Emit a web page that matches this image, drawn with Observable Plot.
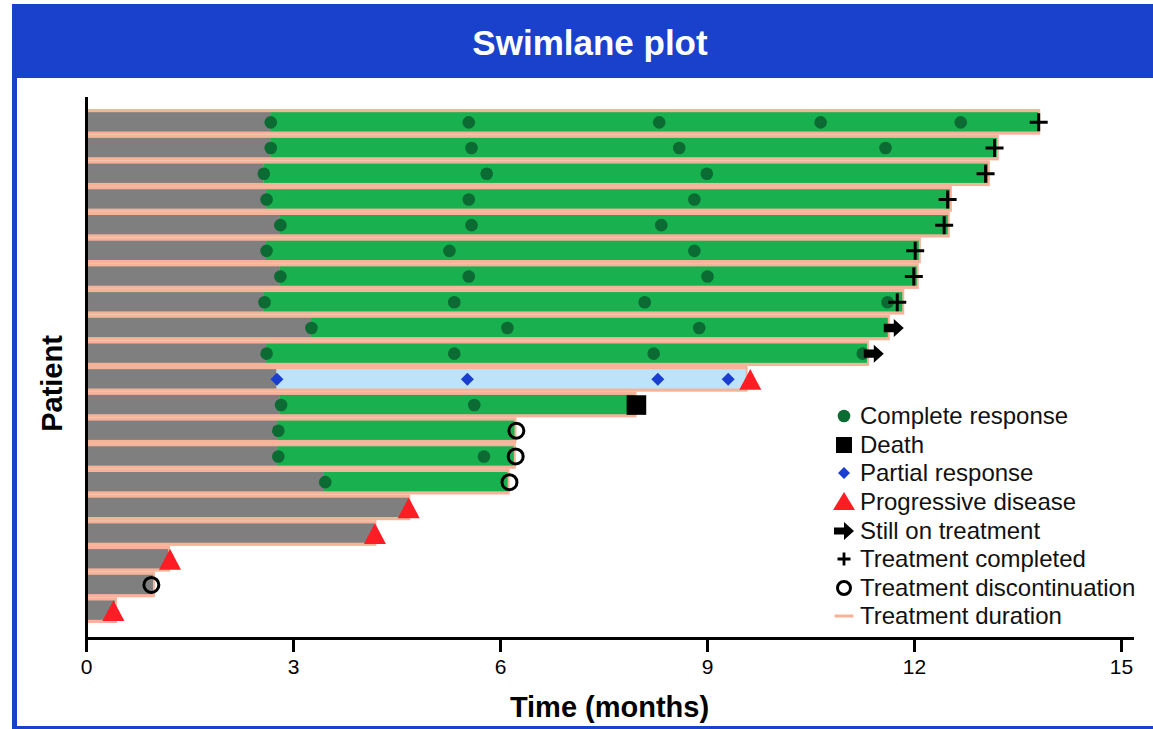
<!DOCTYPE html>
<html><head><meta charset="utf-8">
<script src="https://cdn.jsdelivr.net/npm/d3@7"></script>
<script src="https://cdn.jsdelivr.net/npm/@observablehq/plot@0.6"></script>
<style>
body{margin:0;background:#fff;font-family:"Liberation Sans",Arial,Helvetica,sans-serif;}
#wrap{position:relative;width:1153px;height:729px;overflow:hidden;background:#fff;}
#header{position:absolute;left:12px;top:4px;width:1141px;height:74px;background:#1a41cc;}
#title{position:absolute;top:39px;transform:translate(-50%,-50%);color:#fff;font-weight:bold;font-size:35px;white-space:nowrap;}
#lb{position:absolute;left:12px;top:4px;width:5px;height:725px;background:#1a41cc;}
#bb{position:absolute;left:12px;top:726px;width:1141px;height:3px;background:#1a41cc;}
#chart{position:absolute;left:0;top:78px;}
#legend{position:absolute;left:830px;top:402px;font-size:24px;color:#111;}
.li{display:flex;align-items:center;height:28.6px;white-space:nowrap;}
.li svg{width:28px;height:28px;margin-right:2px;flex:none;}
</style>
</head><body>
<div id="wrap">
  <div id="chart"></div>
  <div id="header"><div id="title" style="left:578px">Swimlane plot</div></div>
  <div id="lb"></div>
  <div id="bb"></div>
  <div id="legend"></div>
</div>
<script>
// ---- data ----
const patients = ["1","2","3","4","5","6","7","8","9","10","11","12","13","14","15","16","17","18","19","20"];
const treatmentEnd = [13.80, 13.20, 13.07, 12.52, 12.49, 12.07, 12.04, 11.83, 11.62, 11.32, 9.56, 7.95, 6.21, 6.20, 6.11, 4.67, 4.18, 1.19, 0.97, 0.42];
const responseStart = [2.67, 2.67, 2.57, 2.61, 2.81, 2.61, 2.81, 2.58, 3.26, 2.61, 2.76, 2.80, 2.77, 2.77, 3.45, null, null, null, null, null];
const responseType = ["CR","CR","CR","CR","CR","CR","CR","CR","CR","CR","PR","CR","CR","CR","CR", null, null, null, null, null];

const crPatient = ["1","1","1","1","1","2","2","2","2","3","3","3","4","4","4","5","5","5","6","6","6","7","7","7","8","8","8","8","9","9","9","10","10","10","10","12","12","13","14","14","15"];
const crTime    = [2.67,5.54,8.30,10.64,12.67, 2.67,5.58,8.59,11.58, 2.57,5.80,8.99, 2.61,5.54,8.81, 2.81,5.58,8.33, 2.61,5.26,8.81, 2.81,5.54,9.00, 2.58,5.33,8.09,11.61, 3.26,6.10,8.88, 2.61,5.33,8.22,11.25, 2.82,5.62, 2.78, 2.78,5.76, 3.46];

const prPatient = ["11","11","11","11"];
const prTime    = [2.76, 5.52, 8.28, 9.30];

const completedPatient = ["1","2","3","4","5","6","7","8"];
const completedTime    = [13.80, 13.16, 13.03, 12.48, 12.43, 12.01, 11.99, 11.75];
const ongoingPatient = ["9","10"];
const ongoingTime    = [11.70, 11.41];
const pdPatient = ["11","16","17","18","20"];
const pdTime    = [9.62, 4.67, 4.18, 1.21, 0.39];
const deathPatient = ["12"];
const deathTime    = [7.97];
const discPatient = ["13","14","15","19"];
const discTime    = [6.23, 6.22, 6.13, 0.94];

const xTicks = [0, 3, 6, 9, 12, 15];
const legendLabels = ["Complete response","Death","Partial response","Progressive disease","Still on treatment","Treatment completed","Treatment discontinuation","Treatment duration"];

// ---- colours ----
const C = {gray:"#7f7f7f", green:"#19b04f", salmon:"#f5b39a", dot:"#0b6b32", light:"#bde3fa", blue:"#1a3fd0", red:"#ff1d25"};

// ---- tables ----
const rows = patients.map((id, i) => ({id, end: treatmentEnd[i], start: responseStart[i], type: responseType[i]}));
const resp = rows.filter(d => d.start != null);
const pts = (P, T) => P.map((p, i) => ({id: p, t: T[i]}));

// ---- custom symbols (size -> r) ----
const R = s => Math.sqrt(s / Math.PI);
const triSym = {draw(c, s){const r = R(s), h = r*0.95; c.moveTo(0,-h); c.lineTo(r,h); c.lineTo(-r,h); c.closePath();}};
const sqSym = {draw(c, s){const r = R(s); c.rect(-r,-r,2*r,2*r);}};
const diaSym = {draw(c, s){const r = R(s); c.moveTo(0,-r); c.lineTo(r,0); c.lineTo(0,r); c.lineTo(-r,0); c.closePath();}};
const plusSym = {draw(c, s){const r = R(s); c.moveTo(-r,0); c.lineTo(r,0); c.moveTo(0,-r); c.lineTo(0,r);}};
const arrowSym = {draw(c, s){const r = R(s); const w = 0.42*r, hh = 0.9*r;
  c.moveTo(-r,-w); c.lineTo(0,-w); c.lineTo(0,-hh); c.lineTo(r,0); c.lineTo(0,hh); c.lineTo(0,w); c.lineTo(-r,w); c.closePath();}};

const inner = {insetTop: 3.2, insetBottom: 3.2};

const chart = Plot.plot({
  width: 1153, height: 648,
  marginLeft: 86, marginRight: 21, marginTop: 20, marginBottom: 88,
  style: {background: "transparent", fontFamily: '"Liberation Sans", Arial, Helvetica, sans-serif', color: "#000"},
  x: {domain: [0, 15], insetRight: 11, axis: null},
  y: {type: "band", domain: patients, padding: 0, round: false, insetTop: 11, insetBottom: 15, axis: null},
  marks: [
    Plot.barX(rows, {x1: 0, x2: "end", y: "id", fill: C.salmon, insetRight: -2}),
    Plot.barX(rows, {x1: 0, x2: d => d.start ?? d.end, y: "id", fill: C.gray, ...inner}),
    Plot.barX(resp, {x1: "start", x2: "end", y: "id", fill: d => d.type === "PR" ? C.light : C.green, ...inner}),
    Plot.dot(pts(crPatient, crTime), {x: "t", y: "id", r: 6.3, fill: C.dot}),
    Plot.dot(pts(prPatient, prTime), {x: "t", y: "id", r: 6.5, symbol: diaSym, fill: C.blue, stroke: "none"}),
    Plot.dot(pts(pdPatient, pdTime), {x: "t", y: "id", r: 11, symbol: triSym, fill: C.red, stroke: "none"}),
    Plot.dot(pts(deathPatient, deathTime), {x: "t", y: "id", r: 9.8, symbol: sqSym, fill: "#000", stroke: "none"}),
    Plot.dot(pts(discPatient, discTime), {x: "t", y: "id", r: 7.5, fill: "none", stroke: "#000", strokeWidth: 3}),
    Plot.dot(pts(completedPatient, completedTime), {x: "t", y: "id", r: 9, symbol: plusSym, fill: "none", stroke: "#000", strokeWidth: 3}),
    Plot.dot(pts(ongoingPatient, ongoingTime), {x: "t", y: "id", r: 10, symbol: arrowSym, fill: "#000", stroke: "none"}),
    Plot.frame({anchor: "left", strokeWidth: 3}),
    Plot.frame({anchor: "bottom", strokeWidth: 3}),
    Plot.axisX({ticks: xTicks, tickSize: 14, strokeWidth: 3, fontSize: 21, tickPadding: 7, label: null, color: "#000"}),
    Plot.text(["Time (months)"], {text: d => d, frameAnchor: "bottom", lineAnchor: "middle", dy: 69, fontSize: 29, fontWeight: "bold", fill: "#000"}),
    Plot.text(["Patient"], {text: d => d, frameAnchor: "left", textAnchor: "middle", lineAnchor: "middle", dx: -34, dy: 15, rotate: -90, fontSize: 29, fontWeight: "bold", fill: "#000"})
  ]
});
document.getElementById("chart").appendChild(chart);

// ---- legend ----
const legendSymbols = [
  '<circle cx="14" cy="14" r="6.3" fill="' + C.dot + '"/>',
  '<rect x="6" y="6" width="16" height="16" fill="#000"/>',
  '<path d="M14,8L20,14L14,20L8,14Z" fill="' + C.blue + '"/>',
  '<path d="M14,4L25,22L3,22Z" fill="' + C.red + '"/>',
  '<path d="M4,10.5L14,10.5L14,5L24,14L14,23L14,17.5L4,17.5Z" fill="#000"/>',
  '<path d="M7.5,14H20.5M14,7.5V20.5" stroke="#000" stroke-width="2.8" fill="none"/>',
  '<circle cx="14" cy="14" r="6.5" fill="none" stroke="#000" stroke-width="3"/>',
  '<path d="M4.5,14H23.5" stroke="' + C.salmon + '" stroke-width="3"/>'
];
const lg = document.getElementById("legend");
legendLabels.forEach((t, i) => {
  const row = document.createElement("div");
  row.className = "li";
  row.innerHTML = '<svg viewBox="0 0 28 28">' + legendSymbols[i] + '</svg>';
  const span = document.createElement("span");
  span.textContent = t;
  row.appendChild(span);
  lg.appendChild(row);
});
</script>
</body></html>
